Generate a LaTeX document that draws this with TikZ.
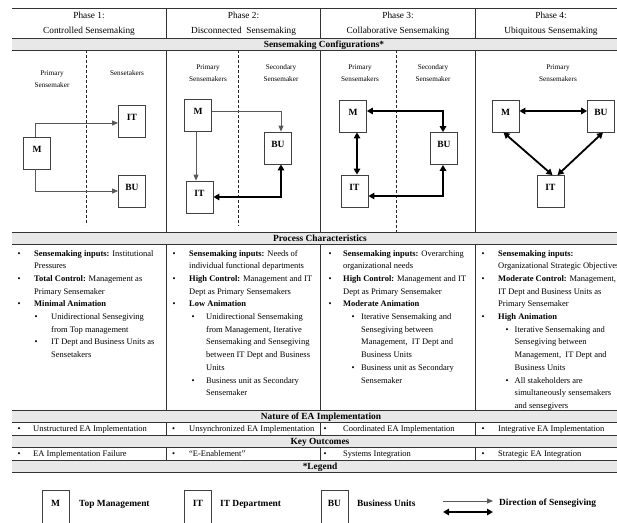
\documentclass[tikz,border=0pt]{standalone}
\usepackage{fontspec}
\setmainfont{Liberation Serif}
\usetikzlibrary{arrows.meta}

\newcommand\fs[2]{\fontsize{#1}{#2}\selectfont}
% bullet item: #1 = distance from bullet to text
\newcommand\Bul[2]{\makebox[#1][l]{\textbullet}#2}
% continuation line
\newcommand\Ind[2]{\hspace*{#1}#2}
% sub item: #1 = bullet offset, #2 = distance from bullet to text
\newcommand\Sub[3]{\hspace*{#1}\makebox[#2][l]{\textbullet}#3}

% multi-line nodes are placed by the baseline of their last line
\begin{document}
\begin{tikzpicture}[x=1pt,y=-1pt,
  rule/.style={draw=black!80,line width=0.8pt},
  band/.style={fill=black!9},
  bandtitle/.style={anchor=base,font=\fs{9.4}{11}\bfseries,inner sep=0},
  phasetitle/.style={anchor=base,align=center,font=\fs{9.3}{15},inner sep=0},
  role/.style={anchor=base,align=center,font=\fs{7.2}{12},inner sep=0},
  actor/.style={draw=black!75,line width=0.8pt,minimum width=27pt,minimum height=32pt,
    inner sep=0,font=\fs{9.5}{11}\bfseries,text height=6.5pt,text depth=8pt},
  divider/.style={draw=black!85,line width=0.6pt,dash pattern=on 3pt off 2pt},
  giving/.style={draw=black!65,line width=0.8pt,-{Triangle[length=6pt,width=5pt]}},
  mutual/.style={draw=black,line width=1.8pt,
    {Triangle[length=6pt,width=6.5pt]}-{Triangle[length=6pt,width=6.5pt]}},
  trait/.style={anchor=base west,align=left,font=\fs{8.5}{12.7},inner sep=0},
  legendtext/.style={anchor=base west,font=\fs{9.4}{11}\bfseries,inner sep=0},
]
\useasboundingbox (0,0) rectangle (617,522);
\clip (0,0) rectangle (617,522);

% ---- grey title bands ----
\foreach \ya/\yb in {38/50,232/244,410/422,435/447,460/472}
  \fill[band] (12,\ya) rectangle (628,\yb);

% ---- horizontal rules ----
\foreach \y in {8,38,50,232,244,410,422,435,447,460,472}
  \draw[rule] (12,\y) -- (628,\y);

% ---- column separators ----
\foreach \x in {166,320.5,475.5} {
  \draw[rule] (\x,8) -- (\x,38);
  \draw[rule] (\x,50) -- (\x,232);
  \draw[rule] (\x,244) -- (\x,410);
  \draw[rule] (\x,422) -- (\x,435);
  \draw[rule] (\x,447) -- (\x,460);
}

% ---- phase headings ----
\node[phasetitle] (ph1) at (89,33.5) {Phase 1:\\Controlled Sensemaking};
\node[phasetitle] (ph2) at (243.5,33.5) {Phase 2:\\Disconnected\ \ Sensemaking};
\node[phasetitle] (ph3) at (398,33.5) {Phase 3:\\Collaborative Sensemaking};
\node[phasetitle] (ph4) at (551,33.5) {Phase 4:\\Ubiquitous Sensemaking};

% ---- band titles ----
\node[bandtitle] (tconf) at (324,47.5) {Sensemaking Configurations*};
\node[bandtitle] (tproc) at (320,241.5) {Process Characteristics};
\node[bandtitle] (tnat)  at (321,419.5) {Nature of EA Implementation};
\node[bandtitle] (tkey)  at (320,444.5) {Key Outcomes};
\node[bandtitle] (tleg)  at (320,469.5) {*Legend};

% ---- configuration panels: role labels and dividers ----
\node[role] (r1a) at (52,87.5) {Primary\\Sensemaker};
\node[role] (r1b) at (127,75.5) {Sensetakers};
\node[role] (r2a) at (208,81) {Primary\\Sensemakers};
\node[role] (r2b) at (281,81) {Secondary\\Sensemaker};
\node[role] (r3a) at (360,81) {Primary\\Sensemakers};
\node[role] (r3b) at (433,81) {Secondary\\Sensemaker};
\node[role] (r4a) at (558,81) {Primary\\Sensemakers};

\draw[divider] (86,50) -- (86,225);
\draw[divider] (238,50) -- (238,226);
\draw[divider] (396,50) -- (396,232);

% ---- actors ----
\node[actor] (m1)  at (37,153)    {M};
\node[actor] (it1) at (132,121)   {IT};
\node[actor] (bu1) at (132,191)   {BU};

\node[actor] (m2)  at (198,115.5) {M};
\node[actor] (bu2) at (278,148)   {BU};
\node[actor] (it2) at (199.5,197) {IT};

\node[actor] (m3)  at (353,116)   {M};
\node[actor] (bu3) at (444,148.5) {BU};
\node[actor] (it3) at (354.5,191) {IT};

\node[actor] (m4)  at (505.5,116) {M};
\node[actor] (bu4) at (601,116)   {BU};
\node[actor] (it4) at (550.5,191.5) {IT};

% ---- sensegiving connectors ----
\draw[giving] ([xshift=-2pt]m1.north) |- ([yshift=-2pt]it1.west);
\draw[giving] ([xshift=-2pt]m1.south) |- (bu1.west);

\draw[giving] ([xshift=-2pt]m2.south) -- ([xshift=-2pt]m2.south |- it2.north);
\draw[giving] ([yshift=4.5pt]m2.east) -| ([xshift=3pt]bu2.north);
\draw[mutual] (it2.east) -| ([xshift=3pt]bu2.south);

\draw[mutual] ([yshift=5pt]m3.east) -| ([xshift=-1pt]bu3.north);
\draw[mutual] ([xshift=4pt]m3.south) -- ([xshift=4pt]m3.south |- it3.north);
\draw[mutual] ([yshift=-5pt]it3.east) -| ([xshift=-1pt]bu3.south);

\draw[mutual] ([yshift=5pt]m4.east) -- ([yshift=5pt]bu4.west);
\draw[mutual] ([xshift=-2pt]m4.south) -- ([xshift=2pt]it4.north);
\draw[mutual] ([xshift=2pt]bu4.south) -- ([xshift=7pt]it4.north);

% ---- process characteristics ----
\node[trait] (pc1) at (17.5,357.6) {%
\Bul{16.5pt}{\textbf{Sensemaking inputs:} Institutional}\\
\Ind{16.5pt}{Pressures}\\
\Bul{16.5pt}{\textbf{Total Control:} Management as}\\
\Ind{16.5pt}{Primary Sensemaker}\\
\Bul{16.5pt}{\textbf{Minimal Animation}}\\
\Sub{17pt}{16.5pt}{Unidirectional Sensegiving}\\
\Ind{33.5pt}{from Top management}\\
\Sub{17pt}{16.5pt}{IT Dept and Business Units as}\\
\Ind{33.5pt}{Sensetakers}};

\node[trait] (pc2) at (172.5,395.7) {%
\Bul{16.5pt}{\textbf{Sensemaking inputs:} Needs of}\\
\Ind{16.5pt}{individual functional departments}\\
\Bul{16.5pt}{\textbf{High Control:} Management and IT}\\
\Ind{16.5pt}{Dept as Primary Sensemakers}\\
\Bul{16.5pt}{\textbf{Low Animation}}\\
\Sub{19pt}{14.5pt}{Unidirectional Sensemaking}\\
\Ind{33.5pt}{from Management, Iterative}\\
\Ind{33.5pt}{Sensemaking and Sensegiving}\\
\Ind{33.5pt}{between IT Dept and Business}\\
\Ind{33.5pt}{Units}\\
\Sub{19pt}{14.5pt}{Business unit as Secondary}\\
\Ind{33.5pt}{Sensemaker}};

\node[trait] (pc3) at (328.5,383) {%
\Bul{14.5pt}{\textbf{Sensemaking inputs:} Overarching}\\
\Ind{14.5pt}{organizational needs}\\
\Bul{14.5pt}{\textbf{High Control:} Management and IT}\\
\Ind{14.5pt}{Dept as Primary Sensemaker}\\
\Bul{14.5pt}{\textbf{Moderate Animation}}\\
\Sub{23pt}{9.5pt}{Iterative Sensemaking and}\\
\Ind{32.5pt}{Sensegiving between}\\
\Ind{32.5pt}{Management,\ \ IT Dept and}\\
\Ind{32.5pt}{Business Units}\\
\Sub{23pt}{9.5pt}{Business unit as Secondary}\\
\Ind{32.5pt}{Sensemaker}};

\node[trait] (pc4) at (481.5,408.4) {%
\Bul{16.5pt}{\textbf{Sensemaking inputs:}}\\
\Ind{16.5pt}{Organizational Strategic Objectives}\\
\Bul{16.5pt}{\textbf{Moderate Control:} Management,}\\
\Ind{16.5pt}{IT Dept and Business Units as}\\
\Ind{16.5pt}{Primary Sensemaker}\\
\Bul{16.5pt}{\textbf{High Animation}}\\
\Sub{24pt}{9pt}{Iterative Sensemaking and}\\
\Ind{33pt}{Sensegiving between}\\
\Ind{33pt}{Management,\ \ IT Dept and}\\
\Ind{33pt}{Business Units}\\
\Sub{24pt}{9pt}{All stakeholders are}\\
\Ind{33pt}{simultaneously sensemakers}\\
\Ind{33pt}{and sensegivers}};

% ---- nature of EA implementation ----
\node[trait] (na1) at (17.5,431.5)  {\Bul{15.5pt}{Unstructured EA Implementation}};
\node[trait] (na2) at (172,431.5)   {\Bul{17pt}{Unsynchronized EA Implementation}};
\node[trait] (na3) at (323.5,431.5) {\Bul{19.5pt}{Coordinated EA Implementation}};
\node[trait] (na4) at (481.5,431.5) {\Bul{16.5pt}{Integrative EA Implementation}};

% ---- key outcomes ----
\node[trait] (ko1) at (17.5,456.5)  {\Bul{15.5pt}{EA Implementation Failure}};
\node[trait] (ko2) at (172,456.5)   {\Bul{17pt}{“E-Enablement”}};
\node[trait] (ko3) at (323.5,456.5) {\Bul{19.5pt}{Systems Integration}};
\node[trait] (ko4) at (481.5,456.5) {\Bul{16.5pt}{Strategic EA Integration}};

% ---- legend ----
\node[actor,minimum height=34pt] (lm)  at (55.5,507) {M};
\node[legendtext] (lmt) at (79,506.5) {Top Management};
\node[actor,minimum height=34pt] (lit) at (198,507) {IT};
\node[legendtext] (litt) at (220,506.5) {IT Department};
\node[actor,minimum height=34pt] (lbu) at (334.5,507) {BU};
\node[legendtext] (lbut) at (357,506.5) {Business Units};

\coordinate (ga) at (443,501);
\coordinate (gb) at (493,501);
\coordinate (ma) at (443,512);
\coordinate (mb) at (493,512);
\draw[giving] (ga) -- (gb);
\draw[mutual] (ma) -- (mb);
\node[legendtext] (lgt) at (499,505.5) {Direction of Sensegiving};
\end{tikzpicture}
\end{document}
